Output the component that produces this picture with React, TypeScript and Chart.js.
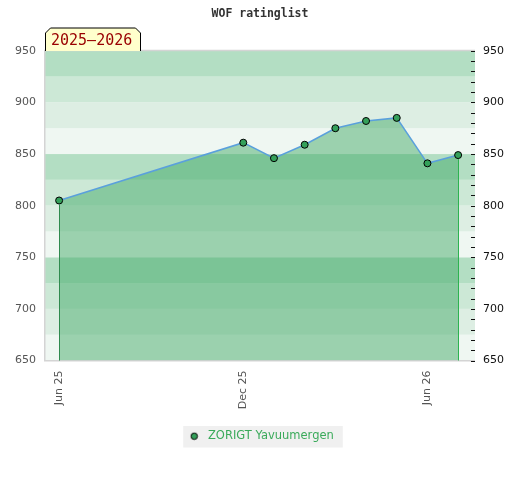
import React, { useEffect, useRef } from 'react';
import { Chart, registerables } from 'chart.js';

Chart.register(...registerables);

// ---- data ----
const chartTitle = 'WOF ratinglist';
const seasonLabel = '2025–2026';
const playerName = 'ZORIGT Yavuumergen';
const ratingDates = ['2025-06', '2025-12', '2026-01', '2026-02', '2026-03', '2026-04', '2026-05', '2026-06', '2026-07'];
const ratings = [805, 861, 846, 859, 875, 882, 885, 841, 849];
const xTickDates = ['2025-06', '2025-12', '2026-06'];
const xTickLabels = ['Jun 25', 'Dec 25', 'Jun 26'];
const yMin = 650;
const yMax = 950;
const yLabelStep = 50;
const yMinorStep = 10;
const bandStep = 25;

// ---- styles ----
const bandColors = ['#cce8d6', '#b3dec3', '#eff7f2', '#ddeee3'];
const lineColor = '#5aa0dc';
const fillColor = 'rgba(62,168,101,0.48)';
const pointFill = '#34a05a';
const legendColor = '#3aaa5a';

const monthIndex = (d: string) => {
  const [y, m] = d.split('-').map(Number);
  return (y - 2025) * 12 + (m - 6);
};

const decorPlugin = {
  id: 'decor',
  beforeDraw(chart: any) {
    const { ctx } = chart;
    const lg = chart.legend;
    if (lg && lg.legendHitBoxes && lg.legendHitBoxes.length) {
      const hb = lg.legendHitBoxes[0];
      ctx.save();
      ctx.fillStyle = '#f0f0f0';
      ctx.fillRect(hb.left - 3, hb.top - 4.5, hb.width + 12, hb.height + 10);
      ctx.restore();
    }
  },
  beforeDatasetsDraw(chart: any) {
    const { ctx, chartArea: a, scales } = chart;
    const y = scales.y;
    ctx.save();
    for (let v = yMin; v < yMax; v += bandStep) {
      const top = y.getPixelForValue(v + bandStep);
      const bot = y.getPixelForValue(v);
      ctx.fillStyle = bandColors[(v / bandStep) % 4];
      ctx.fillRect(a.left, top, a.right - a.left, bot - top);
    }
    ctx.strokeStyle = '#d4d4d4';
    ctx.lineWidth = 1.5;
    ctx.beginPath();
    ctx.moveTo(a.right, a.top - 0.25);
    ctx.lineTo(a.left - 0.25, a.top - 0.25);
    ctx.lineTo(a.left - 0.25, a.bottom + 0.25);
    ctx.lineTo(a.right, a.bottom + 0.25);
    ctx.stroke();
    ctx.restore();
  },
  afterDatasetsDraw(chart: any) {
    const { ctx, chartArea: a, scales } = chart;
    const meta = chart.getDatasetMeta(0);
    const pts = meta.data;
    ctx.save();
    ctx.lineWidth = 1;
    const first = pts[0];
    const last = pts[pts.length - 1];
    ctx.strokeStyle = '#2f8a4e';
    ctx.beginPath();
    ctx.moveTo(Math.round(first.x) + 0.5, first.y + 4);
    ctx.lineTo(Math.round(first.x) + 0.5, a.bottom);
    ctx.stroke();
    ctx.strokeStyle = '#2db350';
    ctx.beginPath();
    ctx.moveTo(Math.round(last.x) + 0.5, last.y + 4);
    ctx.lineTo(Math.round(last.x) + 0.5, a.bottom);
    ctx.stroke();
    // minor tick dashes of right axis
    const y2 = scales.y2;
    ctx.strokeStyle = '#111';
    ctx.beginPath();
    y2.ticks.forEach((t: any) => {
      const py = Math.round(y2.getPixelForValue(t.value)) + 0.5;
      ctx.moveTo(a.right - 4, py);
      ctx.lineTo(a.right, py);
    });
    ctx.stroke();
    ctx.restore();
  },
  afterDraw(chart: any) {
    const { ctx, chartArea: a } = chart;
    ctx.save();
    ctx.font = '15px "DejaVu Sans Mono"';
    const tw = ctx.measureText(seasonLabel).width;
    const L = Math.round(a.left) + 0.5;
    const B = Math.round(a.top);
    const R = L + Math.round(tw + 14);
    const T = B - 23;
    const c = 5;
    ctx.beginPath();
    ctx.moveTo(L, B);
    ctx.lineTo(L, T + c);
    ctx.lineTo(L + c, T);
    ctx.lineTo(R - c, T);
    ctx.lineTo(R, T + c);
    ctx.lineTo(R, B);
    ctx.fillStyle = '#ffffcc';
    ctx.fill();
    ctx.strokeStyle = '#000';
    ctx.lineWidth = 1;
    ctx.stroke();
    ctx.fillStyle = '#990000';
    ctx.textBaseline = 'middle';
    ctx.fillText(seasonLabel, L + 5.5, B - 9.5);
    ctx.restore();
  },
};

export default function App() {
  const ref = useRef<HTMLCanvasElement>(null);
  useEffect(() => {
    document.body.style.margin = '0';
    const marker = document.createElement('canvas');
    marker.width = 9;
    marker.height = 9;
    const mc = marker.getContext('2d')!;
    mc.beginPath();
    mc.arc(4.5, 4.5, 3.2, 0, Math.PI * 2);
    mc.fillStyle = pointFill;
    mc.fill();
    mc.lineWidth = 1;
    mc.strokeStyle = '#000';
    mc.stroke();

    const chart = new Chart(ref.current!, {
      type: 'line',
      data: {
        datasets: [
          {
            label: playerName,
            data: ratingDates.map((d, i) => ({ x: monthIndex(d), y: ratings[i] })),
            borderColor: lineColor,
            borderWidth: 1.5,
            backgroundColor: fillColor,
            fill: 'start',
            tension: 0,
            pointRadius: 3.5,
            pointBackgroundColor: pointFill,
            pointBorderColor: '#000',
            pointBorderWidth: 1,
            yAxisID: 'y',
          },
        ],
      },
      options: {
        responsive: false,
        animation: false,
        layout: { padding: { left: 0, right: 0, top: 0, bottom: 28 } },
        plugins: {
          title: {
            display: true,
            text: chartTitle,
            color: '#333',
            font: { family: 'DejaVu Sans Mono', size: 11.5, weight: 'bold' },
            padding: { top: 7, bottom: 30 },
          },
          legend: {
            position: 'bottom',
            labels: {
              usePointStyle: true,
              pointStyle: marker as any,
              pointStyleWidth: 16,
              boxHeight: 11,
              padding: 10,
              color: legendColor,
              font: { family: 'DejaVu Sans', size: 11.5 },
            },
          },
          tooltip: { enabled: false },
        },
        scales: {
          x: {
            type: 'linear',
            min: -0.46,
            max: 13.55,
            grid: { display: false, drawTicks: false },
            border: { display: false },
            afterBuildTicks: (s: any) => {
              s.ticks = xTickDates.map((d) => ({ value: monthIndex(d) }));
            },
            afterFit: (s: any) => {
              s.height = 60;
            },
            ticks: {
              autoSkip: false,
              minRotation: 90,
              maxRotation: 90,
              padding: 10,
              color: '#555',
              font: { family: 'DejaVu Sans', size: 11 },
              callback: (_v: any, i: number) => xTickLabels[i],
            },
          },
          y: {
            position: 'left',
            min: yMin,
            max: yMax,
            grid: { display: false, drawTicks: false },
            border: { display: false },
            afterFit: (s: any) => {
              s.width = 45;
            },
            ticks: {
              stepSize: yLabelStep,
              padding: 9,
              color: '#555',
              font: { family: 'DejaVu Sans', size: 11 },
            },
          },
          y2: {
            position: 'right',
            min: yMin,
            max: yMax,
            grid: { display: false, drawTicks: false },
            border: { display: false },
            afterFit: (s: any) => {
              s.width = 45;
            },
            ticks: {
              stepSize: yMinorStep,
              autoSkip: false,
              padding: 8,
              color: '#111',
              font: { family: 'DejaVu Sans', size: 11 },
              callback: (v: any) => (Number(v) % yLabelStep === 0 ? String(v) : ''),
            },
          },
        },
      },
      plugins: [decorPlugin],
    } as any);
    return () => chart.destroy();
  }, []);
  return (
    <div style={{ position: 'absolute', left: 0, top: 0, width: 520, height: 480 }}>
      <canvas ref={ref} width={520} height={480} style={{ display: 'block', width: 520, height: 480 }} />
    </div>
  );
}
